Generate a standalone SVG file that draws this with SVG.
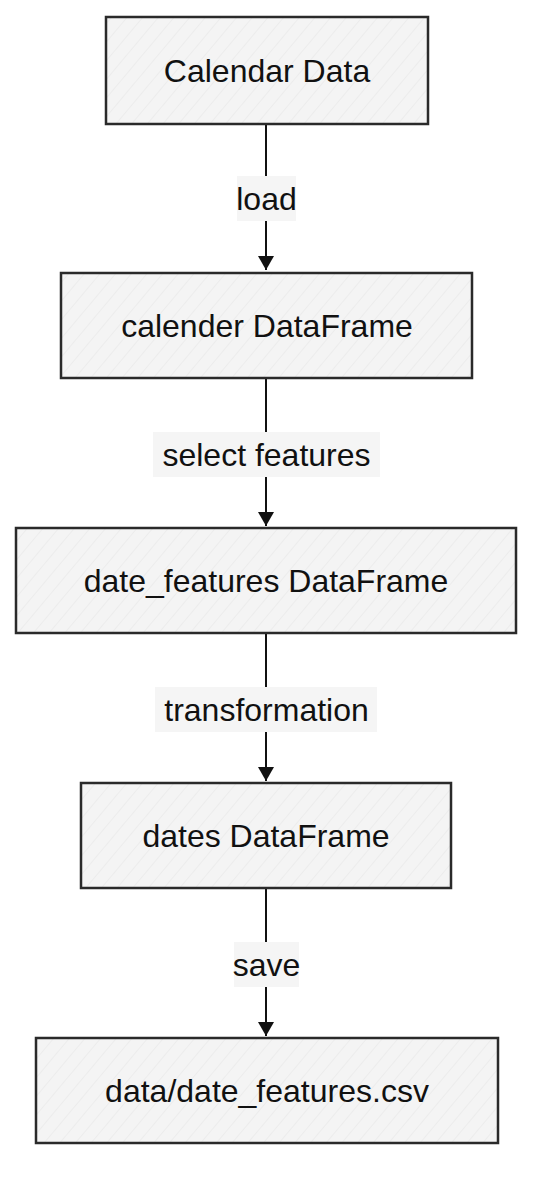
<svg xmlns="http://www.w3.org/2000/svg" width="550" height="1196" viewBox="0 0 550 1196">
<style>
.box{fill:url(#hatch);stroke:#2a2a2a;stroke-width:2.5}
.lbl{font-family:"Liberation Sans",Arial,sans-serif;font-size:32px;fill:#111;text-anchor:middle}
.edge{stroke:#111;stroke-width:2;fill:none}
.ebg{fill:#f5f5f5}
</style>
<defs>
<pattern id="hatch" patternUnits="userSpaceOnUse" width="12" height="12" patternTransform="rotate(40)">
<rect width="12" height="12" fill="#f4f4f4"/>
<line x1="0" y1="0" x2="0" y2="12" stroke="#e4e4e4" stroke-width="1"/>
</pattern>
<marker id="arr" markerWidth="14" markerHeight="16" refX="14" refY="8" orient="auto" markerUnits="userSpaceOnUse">
<path d="M0,0 L14,8 L0,16 z" fill="#111"/>
</marker>
</defs>
<g id="edges">
<line class="edge" x1="266" y1="124" x2="266" y2="270" marker-end="url(#arr)"/>
<rect class="ebg" x="237" y="176" width="59" height="45"/>
<text class="lbl" x="266.5" y="210">load</text>
<line class="edge" x1="266" y1="378" x2="266" y2="526" marker-end="url(#arr)"/>
<rect class="ebg" x="153" y="432" width="227" height="45"/>
<text class="lbl" x="266.5" y="466">select features</text>
<line class="edge" x1="266" y1="633" x2="266" y2="781" marker-end="url(#arr)"/>
<rect class="ebg" x="155" y="687" width="222" height="45"/>
<text class="lbl" x="266.5" y="721">transformation</text>
<line class="edge" x1="266" y1="888" x2="266" y2="1036" marker-end="url(#arr)"/>
<rect class="ebg" x="234" y="942" width="65" height="45"/>
<text class="lbl" x="266.5" y="976">save</text>
</g>
<g id="n1">
<rect class="box" x="106" y="17" width="322" height="107"/>
<text class="lbl" x="267" y="82">Calendar Data</text>
</g>
<g id="n2">
<rect class="box" x="61" y="273" width="411" height="105"/>
<text class="lbl" x="267" y="337">calender DataFrame</text>
</g>
<g id="n3">
<rect class="box" x="16" y="528" width="500" height="105"/>
<text class="lbl" x="266" y="592">date_features DataFrame</text>
</g>
<g id="n4">
<rect class="box" x="81" y="783" width="370" height="105"/>
<text class="lbl" x="266" y="847">dates DataFrame</text>
</g>
<g id="n5">
<rect class="box" x="36" y="1038" width="462" height="105"/>
<text class="lbl" x="267" y="1102">data/date_features.csv</text>
</g>
</svg>
